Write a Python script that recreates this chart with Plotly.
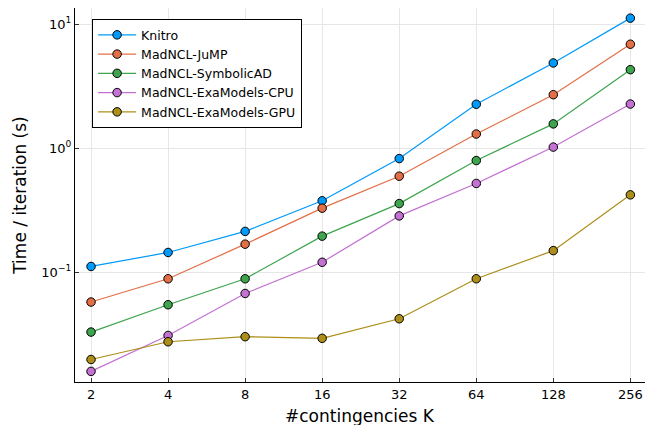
import plotly.graph_objects as go
import math

K = [2, 4, 8, 16, 32, 64, 128, 256]
x_ticktext = ["2", "4", "8", "16", "32", "64", "128", "256"]

knitro = [0.111, 0.144, 0.213, 0.376, 0.824, 2.26, 4.87, 11.2]
jump = [0.0573, 0.0883, 0.168, 0.328, 0.594, 1.30, 2.70, 6.90]
symbolic = [0.0328, 0.0545, 0.0883, 0.195, 0.357, 0.794, 1.57, 4.30]
exa_cpu = [0.0158, 0.0308, 0.0672, 0.120, 0.284, 0.519, 1.02, 2.27]
exa_gpu = [0.0197, 0.0274, 0.0301, 0.0292, 0.0420, 0.0883, 0.149, 0.420]

names = ["Knitro", "MadNCL-JuMP", "MadNCL-SymbolicAD",
         "MadNCL-ExaModels-CPU", "MadNCL-ExaModels-GPU"]
series = [knitro, jump, symbolic, exa_cpu, exa_gpu]
colors = ["#009AFA", "#E36F47", "#3EA44E", "#C371D2", "#AC8E18"]

y_tickvals = [0.1, 1, 10]
y_ticktext = ["10<sup>\u22121</sup>", "10<sup>0</sup>", "10<sup>1</sup>"]

FONT = "DejaVu Sans"

fig = go.Figure()
for name, vals, col in zip(names, series, colors):
    fig.add_trace(go.Scatter(
        x=K, y=vals, name=name, mode="lines+markers",
        line=dict(color=col, width=1.2),
        marker=dict(color=col, size=8.5, line=dict(color="black", width=1)),
    ))

fig.update_layout(
    width=646, height=425,
    margin=dict(l=75, r=1, t=8, b=43),
    paper_bgcolor="white", plot_bgcolor="white",
    font=dict(family=FONT, color="black"),
    showlegend=True,
    legend=dict(
        x=0.03, y=0.97, xanchor="left", yanchor="top",
        bgcolor="white", bordercolor="black", borderwidth=1,
        font=dict(family=FONT, size=12.5, color="black"),
        itemwidth=38, tracegroupgap=0,
    ),
    annotations=[dict(
        text="#contingencies K", xref="paper", yref="paper",
        x=0.5, y=0, xanchor="center", yanchor="middle", yshift=-34,
        showarrow=False, font=dict(family=FONT, size=17, color="black"),
    )],
)

fig.update_xaxes(
    type="log",
    range=[math.log10(2 ** 0.792), math.log10(2 ** 8.19)],
    tickvals=K, ticktext=x_ticktext,
    tickfont=dict(family=FONT, size=13),
    showgrid=True, gridcolor="#e6e6e6", gridwidth=1,
    showline=True, linecolor="black", linewidth=1.2, mirror=False,
    ticks="inside", ticklen=4, tickcolor="#333333", tickwidth=1,
    zeroline=False,
)
fig.update_yaxes(
    type="log",
    range=[-1.887, 1.131],
    tickvals=y_tickvals, ticktext=y_ticktext,
    tickfont=dict(family=FONT, size=13),
    title=dict(text="Time / iteration (s)", font=dict(family=FONT, size=17), standoff=10),
    showgrid=True, gridcolor="#e6e6e6", gridwidth=1,
    showline=True, linecolor="black", linewidth=1.2, mirror=False,
    ticks="inside", ticklen=4, tickcolor="#333333", tickwidth=1,
    zeroline=False,
)

fig.write_html(
    "out.html",
    config={"displayModeBar": False},
    post_script="document.body.style.margin='0';document.body.style.overflow='hidden';",
)
